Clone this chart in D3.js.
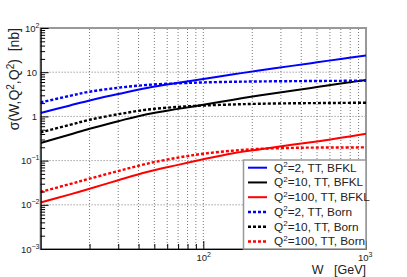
<!DOCTYPE html>
<html>
<head>
<meta charset="utf-8">
<script src="https://cdn.jsdelivr.net/npm/d3@7.9.0/dist/d3.min.js"></script>
<style>
  body { margin: 0; background: #fff; }
  svg { display: block; font-family: 'Liberation Sans', Arial, sans-serif; }
</style>
</head>
<body>
<svg id="chart" width="407" height="277"></svg>
<script>
// W values (GeV) the curves were read at
const energies = [10, 15, 20, 30, 45, 70, 100, 150, 220, 350, 500, 700, 1000];

// sigma in nb
const bfklQ2 = [1.19, 1.75, 2.30, 3.20, 4.39, 5.75, 7.0, 8.85, 10.9, 13.9, 16.7, 20.0, 24.0];
const bfklQ10 = [0.25, 0.385, 0.527, 0.78, 1.12, 1.48, 1.83, 2.36, 2.97, 3.81, 4.61, 5.52, 6.66];
const bfklQ100 = [0.0113, 0.0170, 0.0231, 0.0360, 0.0552, 0.080, 0.107, 0.145, 0.179, 0.228, 0.272, 0.327, 0.406];
const bornQ2 = [2.07, 2.90, 3.62, 4.45, 5.15, 5.60, 5.88, 6.06, 6.18, 6.27, 6.33, 6.38, 6.42];
const bornQ10 = [0.435, 0.64, 0.84, 1.12, 1.42, 1.64, 1.76, 1.86, 1.93, 1.98, 2.00, 2.02, 2.04];
const bornQ100 = [0.0195, 0.0292, 0.039, 0.058, 0.085, 0.117, 0.143, 0.167, 0.184, 0.194, 0.197, 0.198, 0.199];

const q2Labels = ['2', '10', '100', '2', '10', '100'];
const typeLabels = ['TT, BFKL', 'TT, BFKL', 'TT, BFKL', 'TT, Born', 'TT, Born', 'TT, Born'];

const yExponents = [-3, -2, -1, 0, 1, 2];
const xExponents = [2, 3];

const svg = d3.select('#chart');

const x = d3.scaleLog().domain([10, 1000]).range([40.6, 366]);
const y = d3.scaleLog().domain([1e-3, 1e2]).range([249, 28]);

const series = [
  { values: bfklQ2, color: '#0000ff', dash: null },
  { values: bfklQ10, color: '#000000', dash: null },
  { values: bfklQ100, color: '#ff0000', dash: null },
  { values: bornQ2, color: '#0000ff', dash: '3,2' },
  { values: bornQ10, color: '#000000', dash: '3,2' },
  { values: bornQ100, color: '#ff0000', dash: '3,2' },
];

// grid
const xMinor = [];
[10, 100].forEach((d) => {
  for (let k = 2; k <= 9; k++) xMinor.push(d * k);
});
xMinor.push(100);

svg.append('g')
  .selectAll('line')
  .data(xMinor)
  .join('line')
  .attr('x1', (d) => x(d)).attr('x2', (d) => x(d))
  .attr('y1', y(1e-3)).attr('y2', y(1e2))
  .attr('stroke', '#777')
  .attr('stroke-width', 1)
  .attr('stroke-dasharray', '1,2');

svg.append('g')
  .selectAll('line')
  .data(yExponents.slice(1, -1))
  .join('line')
  .attr('x1', x(10)).attr('x2', x(1000))
  .attr('y1', (d) => y(Math.pow(10, d))).attr('y2', (d) => y(Math.pow(10, d)))
  .attr('stroke', '#777')
  .attr('stroke-width', 1)
  .attr('stroke-dasharray', '1,2');

// frame
svg.append('rect')
  .attr('x', x(10)).attr('y', y(1e2))
  .attr('width', x(1000) - x(10)).attr('height', y(1e-3) - y(1e2))
  .attr('fill', 'none')
  .attr('stroke', '#999')
  .attr('stroke-width', 2);

// curves
svg.append('clipPath').attr('id', 'plot-clip')
  .append('rect')
  .attr('x', x(10)).attr('y', y(1e2))
  .attr('width', x(1000) - x(10)).attr('height', y(1e-3) - y(1e2));

const line = d3.line()
  .x((d) => x(d[0]))
  .y((d) => y(d[1]))
  .curve(d3.curveCatmullRom.alpha(0.5));

series.forEach((s) => {
  svg.append('path')
    .attr('clip-path', 'url(#plot-clip)')
    .attr('d', line(energies.map((w, i) => [w, s.values[i]])))
    .attr('fill', 'none')
    .attr('stroke', s.color)
    .attr('stroke-width', s.dash ? 2.4 : 2)
    .attr('stroke-dasharray', s.dash);
});

// axes (ticks inside)
const yAxis = d3.axisRight(y)
  .tickValues(d3.range(-3, 2).flatMap((e) => d3.range(1, 10).map((k) => k * Math.pow(10, e))).concat([100]))
  .tickFormat('')
  .tickSize(5)
  .tickSizeOuter(0);

const yAxisG = svg.append('g')
  .attr('transform', `translate(${x(10)},0)`)
  .call(yAxis);
yAxisG.selectAll('.tick line')
  .attr('x2', (d) => (Math.abs(Math.log10(d) - Math.round(Math.log10(d))) < 1e-9 ? 8 : 4.5))
  .attr('stroke', '#000');
yAxisG.select('.domain').attr('stroke', '#000').attr('stroke-width', 1.2);

const xAxis = d3.axisTop(x)
  .tickValues(xMinor.concat([1000]))
  .tickFormat('')
  .tickSize(5)
  .tickSizeOuter(0);

const xAxisG = svg.append('g')
  .attr('transform', `translate(0,${y(1e-3)})`)
  .call(xAxis);
xAxisG.selectAll('.tick line')
  .attr('y2', (d) => (d === 100 || d === 1000 ? -8 : -5))
  .attr('stroke', '#000');
xAxisG.select('.domain').attr('stroke', '#000').attr('stroke-width', 1.2);

// tick labels
function powerLabel(sel, exponent) {
  if (exponent === 0) {
    sel.text('1');
    return;
  }
  if (exponent === 1) {
    sel.text('10');
    return;
  }
  sel.append('tspan').text('10');
  sel.append('tspan')
    .attr('dy', -4)
    .attr('font-size', 7)
    .text(exponent < 0 ? '\u2212' + Math.abs(exponent) : String(exponent));
}

yExponents.forEach((e) => {
  const t = svg.append('text')
    .attr('x', e >= 0 && e <= 1 ? 37 : 39.5)
    .attr('y', y(Math.pow(10, e)) + 3.5)
    .attr('text-anchor', 'end')
    .attr('font-size', 9.5)
    .attr('fill', '#222');
  powerLabel(t, e);
});

xExponents.forEach((e) => {
  const t = svg.append('text')
    .attr('x', e === 3 ? 358 : 196.5)
    .attr('y', 261)
    .attr('font-size', 9.5)
    .attr('fill', '#222');
  powerLabel(t, e);
});

// axis titles
const yTitle = svg.append('text')
  .attr('transform', `translate(18.5,${y(1e2)}) rotate(-90)`)
  .attr('text-anchor', 'end')
  .attr('font-size', 14)
  .attr('fill', '#222')
  .style('white-space', 'pre');
yTitle.append('tspan').text('\u03c3(W,Q');
yTitle.append('tspan').attr('dy', -5).attr('font-size', 10).text('2');
yTitle.append('tspan').attr('dy', 5).text(',Q');
yTitle.append('tspan').attr('dy', -5).attr('font-size', 10).text('2');
yTitle.append('tspan').attr('dy', 5).text(')  [nb]');

svg.append('text')
  .attr('x', 366)
  .attr('y', 274)
  .attr('text-anchor', 'end')
  .attr('font-size', 12.5)
  .attr('fill', '#222')
  .style('white-space', 'pre')
  .text('W   [GeV]');

// legend
const legendX = 243.5;
const legendY = 160;
const rowStep = 14.75;

svg.append('rect')
  .attr('x', legendX).attr('y', legendY)
  .attr('width', 366 - legendX).attr('height', 249 - legendY)
  .attr('fill', '#fff')
  .attr('stroke', '#999')
  .attr('stroke-width', 1.5);

series.forEach((s, i) => {
  const rowY = legendY + 7.7 + i * rowStep;
  svg.append('line')
    .attr('x1', 248).attr('x2', 267)
    .attr('y1', rowY).attr('y2', rowY)
    .attr('stroke', s.color)
    .attr('stroke-width', s.dash ? 2.4 : 2)
    .attr('stroke-dasharray', s.dash);
  const t = svg.append('text')
    .attr('x', 274)
    .attr('y', rowY + 4)
    .attr('font-size', 11.8)
    .attr('fill', '#222');
  t.append('tspan').text('Q');
  t.append('tspan').attr('dy', -4.5).attr('font-size', 8).text('2');
  t.append('tspan').attr('dy', 4.5).text(`=${q2Labels[i]}, ${typeLabels[i]}`);
});
</script>
</body>
</html>
